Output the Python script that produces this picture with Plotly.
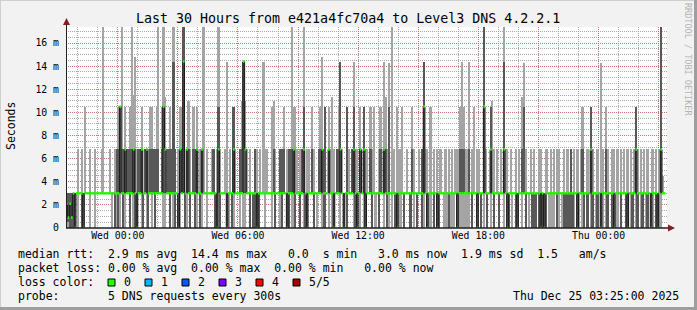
import plotly.graph_objects as go
import pandas as pd

# ---------------- data (ms) ----------------
t_start = "2025-12-23 21:25:00"
t_end = "2025-12-25 03:25:00"
step_seconds = 300

ping_min = [
    0,0,0,0,0,0,3,0,3,0,0,3,3,3,0,3,3,0,3,3,
    3,3,3,3,3,3,3,0,3,0,0,0,0,3,0,0,3,3,0,3,
    0,0,0,3,3,0,0,3,0,0,3,0,3,0,3,3,3,3,0,0,
    3,3,0,3,0,0,3,0,0,3,3,0,0,3,0,3,3,0,0,3,
    0,0,3,3,0,3,3,3,3,0,0,0,0,3,3,3,0,0,3,0,
    0,3,3,3,0,3,0,0,3,3,0,3,0,0,0,0,3,3,3,0,
    3,3,3,0,3,0,3,3,0,0,3,3,0,0,3,0,0,0,3,3,
    0,3,0,0,0,3,3,3,0,3,0,3,3,0,0,0,3,0,3,0,
    0,3,3,3,0,3,0,3,0,3,3,3,0,0,0,3,0,3,0,0,
    3,3,3,0,3,0,3,0,3,3,0,3,0,0,3,0,3,0,0,3,
    0,3,0,3,3,3,0,3,0,3,0,3,3,0,0,3,0,3,0,3,
    0,3,0,0,3,3,0,0,0,0,0,0,0,3,0,0,0,0,0,0,
    0,0,3,0,3,3,0,3,0,3,0,3,0,3,0,3,0,3,3,0,
    3,3,0,3,0,0,3,0,3,0,0,3,3,0,3,0,3,0,3,0,
    0,0,3,0,0,0,0,0,3,0,0,0,0,3,0,0,3,0,0,0,
    0,0,0,0,0,3,0,0,3,0,0,3,0,3,0,0,3,0,0,3,
    0,0,3,0,0,3,3,0,0,3,0,3,0,3,3,0,0,3,0,0,
    3,0,0,3,0,0,3,0,0,3,0,0,3,0,0,0,0,3,3,None,
]
ping_lo = [
    0.5,0.5,0,0,0,0,3,3,3,0,0,3,3,3,3,3,3,3,3,3,
    3,3,3,3,3,3,3,3,3,0,3,0,3,3,0,3,3,3,0,3,
    3,0,0,3,3,3,0,3,3,0,3,3,3,0,3,3,3,3,3,3,
    3,3,0,3,3,0,3,0,3,3,3,0,3,3,0,3,3,0,3,3,
    0,3,3,3,3,3,3,3,3,0,0,3,0,3,3,3,0,3,3,0,
    3,3,3,3,3,3,3,3,3,3,0,3,0,0,0,0,3,3,3,3,
    3,3,3,3,3,0,3,3,3,0,3,3,0,0,3,3,3,0,3,3,
    0,3,3,0,0,3,3,3,0,3,3,3,3,3,0,0,3,3,3,3,
    0,3,3,3,3,3,0,3,0,3,3,3,3,0,0,3,3,3,3,0,
    3,3,3,0,3,3,3,0,3,3,3,3,0,3,3,3,3,0,0,3,
    3,3,0,3,3,3,0,3,3,3,0,3,3,0,3,3,0,3,3,3,
    0,3,0,0,3,3,3,3,3,0,3,3,3,3,0,3,3,3,3,3,
    3,3,3,0,3,3,0,3,0,3,3,3,0,3,3,3,0,3,3,0,
    3,3,3,3,0,0,3,3,3,0,0,3,3,3,3,0,3,3,3,0,
    0,0,3,0,0,0,0,0,3,3,3,3,3,3,0,3,3,3,0,0,
    0,0,0,0,3,3,0,3,3,3,0,3,0,3,3,0,3,3,0,3,
    0,3,3,3,0,3,3,0,0,3,3,3,0,3,3,0,0,3,3,0,
    3,3,0,3,3,0,3,3,0,3,0,3,3,0,0,3,3,3,3,None,
]
ping_med = [
    2.1,0.9,2.1,0.9,3,0,3,3,3,3,0,3,3,3,3,3,3,3,3,3,
    3,3,3,3,3,3,3,3,3,3,3,3,10.5,3,3,6.8,3,3,3,3,
    6.8,3,0,3,3,6.8,3,3,6.8,3,3,3,3,3,3,3,3,3,10.5,6.8,
    3,3,3,3,3,3,3,0,6.8,3,14.4,3,6.8,3,3,3,3,3,6.8,3,
    3,6.8,3,3,3,3,3,3,3,3,0,6.8,3,3,3,3,0,3,3,3,
    6.8,3,3,3,3,3,14.4,6.8,3,3,3,3,3,3,0,3,3,3,3,3,
    3,3,3,3,3,3,3,3,3,3,3,3,0,3,3,3,6.8,3,3,3,
    3,3,6.8,3,0,3,3,3,3,3,3,3,3,6.8,3,3,3,6.8,3,3,
    0,3,3,3,6.8,3,0,3,3,3,3,3,6.8,3,0,3,6.8,3,6.8,0,
    3,3,3,3,3,3,3,3,3,3,6.8,3,3,3,3,3,3,3,0,3,
    3,3,3,3,3,3,3,3,3,3,3,3,3,3,10.5,3,0,3,3,3,
    3,3,0,3,3,3,3,3,3,3,3,3,3,3,0,3,3,3,3,3,
    3,3,3,3,3,3,0,3,3,3,10.5,3,3,3,6.8,3,3,3,3,3,
    3,3,6.8,3,0,3,3,3,3,3,0,3,3,3,3,3,3,3,3,3,
    3,3,3,3,0,3,0,3,3,3,3,3,3,3,3,3,3,3,3,3,
    3,3,3,3,3,3,0,3,3,3,3,3,3,3,6.8,3,3,3,3,3,
    0,3,3,3,3,3,3,3,0,3,3,3,3,3,3,3,0,3,3,3,
    3,6.8,3,3,3,3,3,3,3,3,0,3,3,3,0,3,6.8,3,3,None,
]
ping_hi = [
    3,3,3,3,3,3,3,3,3,3,3,3,3,3,3,3,3,3,3,3,
    3,3,3,3,3,3,3,3,3,3,6.8,6.8,10.5,6.8,6.8,6.8,6.8,6.8,6.8,6.8,
    6.8,6.8,3,6.8,6.8,6.8,3,6.8,6.8,3,6.8,6.8,6.8,6.8,6.8,6.8,3,6.8,10.5,6.8,
    3,6.8,6.8,6.8,14.4,6.8,3,3,6.8,6.8,25,3,6.8,6.8,3,3,6.8,6.8,6.8,3,
    3,6.8,3,3,3,3,3,3,6.8,3,3,10.5,3,3,3,3,3,3,3,3,
    10.5,3,3,3,6.8,6.8,14.4,6.8,3,3,3,3,3,6.8,3,3,3,3,3,3,
    3,3,3,3,6.8,3,3,3,6.8,6.8,6.8,3,3,6.8,6.8,6.8,6.8,3,3,3,
    3,6.8,10.5,3,3,3,3,6.8,3,3,3,6.8,6.8,6.8,3,10.5,3,6.8,3,3,
    3,3,6.8,6.8,14.4,3,3,3,10.5,3,3,6.8,10.5,3,3,3,6.8,3,10.5,3,
    3,3,6.8,3,3,3,3,3,6.8,3,6.8,6.8,3,10.5,3,3,3,3,3,3,
    3,3,3,3,3,3,3,6.8,3,3,3,3,3,6.8,14.4,3,3,3,3,3,
    3,3,3,3,3,3,3,3,3,3,3,3,3,3,3,3,6.8,6.8,6.8,3,
    3,6.8,3,3,3,3,3,3,3,3,25,3,3,3,10.5,3,3,3,3,3,
    3,3,14.4,3,3,3,3,3,3,3,3,3,3,6.8,10.5,3,3,3,3,3,
    3,3,3,3,3,3,3,3,3,3,3,3,3,3,3,3,3,3,3,3,
    3,3,6.8,3,3,3,3,3,3,6.8,3,3,3,3,10.5,3,3,3,3,3,
    3,3,3,6.8,3,3,3,3,3,3,3,3,3,3,3,3,3,3,3,3,
    3,10.5,3,3,3,3,3,3,3,3,3,3,3,3,3,3,25,3,3,None,
]
ping_max = [
    3,3,3,3,3,3,3,6.8,3,6.8,3,10.5,3,3,6.8,3,3,6.8,3,3,
    3,6.8,25,3,3,3,6.8,3,3,6.8,6.8,10.5,10.5,25,6.8,10.5,6.8,6.8,10.5,25,
    11.5,14.8,6.8,6.8,6.8,10.5,3,6.8,6.8,6.8,10.5,10.5,6.8,6.8,10.5,25,3,10.5,25,11.3,
    6.8,6.8,10.5,6.8,25,6.8,3,6.8,10.5,10.5,25,3,6.8,11,6.8,3,10.5,6.8,10.5,3,
    6.8,6.8,25,3,6.8,3,3,6.8,6.8,3,6.8,25,6.8,3,3,6.8,14.4,3,6.8,3,
    10.5,6.8,3,3,6.8,11,14.4,11,6.8,3,6.8,3,3,6.8,6.8,3,6.8,3,14.4,6.8,
    6.8,3,3,10.5,11,6.8,3,3,6.8,6.8,10.5,3,6.8,6.8,6.8,25,10.5,10.5,6.8,3,
    6.8,6.8,25,3,6.8,6.8,3,10.5,6.8,3,3,6.8,10.5,14.8,6.8,10.5,3,10.5,6.8,11.3,
    6.8,3,6.8,10.5,14.4,6.8,3,3,10.5,6.8,3,6.8,14.4,6.8,6.8,3,10.5,3,10.5,6.8,
    6.8,3,10.5,6.8,10.5,3,3,6.8,10.5,3,14.4,11.3,6.8,14.3,3,25,6.8,3,10.5,6.8,
    6.8,10.5,3,3,6.8,3,3,10.5,6.8,3,3,6.8,3,6.8,14.4,6.8,6.8,3,10.5,3,
    6.8,3,6.8,3,6.8,3,3,6.8,3,6.8,3,6.8,3,6.8,6.8,6.8,10.5,14.4,10.5,6.8,
    6.8,14.4,3,6.8,10.5,3,6.8,6.8,3,3,25,6.8,3,3,10.5,11,6.8,3,6.8,3,
    6.8,3,25,6.8,6.8,3,6.8,3,3,6.8,3,6.8,3,11.3,14.3,6.8,3,3,6.8,3,
    6.8,3,3,6.8,6.8,3,3,6.8,6.8,3,6.8,3,6.8,3,6.8,6.8,3,3,6.8,3,
    6.8,3,6.8,3,6.8,3,6.8,3,6.8,10.5,3,3,6.8,3,10.5,6.8,3,3,6.8,3,
    14.3,6.8,3,10.5,6.8,3,3,6.8,6.8,3,6.8,3,6.8,3,6.8,3,6.8,3,6.8,3,
    6.8,10.5,6.8,3,6.8,3,6.8,3,6.8,3,3,6.8,3,6.8,3,6.8,25,4.5,3,None,
]

x_tick_times = ["2025-12-24 00:00:00", "2025-12-24 03:00:00", "2025-12-24 06:00:00",
                "2025-12-24 09:00:00", "2025-12-24 12:00:00", "2025-12-24 15:00:00",
                "2025-12-24 18:00:00", "2025-12-24 21:00:00", "2025-12-25 00:00:00",
                "2025-12-25 03:00:00"]
x_tick_labels = ["Wed 00:00", "", "Wed 06:00", "", "Wed 12:00", "", "Wed 18:00", "",
                 "Thu 00:00", ""]
y_tick_vals = [0, 2, 4, 6, 8, 10, 12, 14, 16]
y_tick_labels = ["0", "2 m", "4 m", "6 m", "8 m", "10 m", "12 m", "14 m", "16 m"]

loss_labels = ["0", "1", "2", "3", "4", "5/5"]
loss_colors = ["#26ff00", "#00b8ff", "#0059ff", "#7e00ff", "#ff0000", "#a10000"]

legend_lines = [
    "median rtt:  2.9 ms avg  14.4 ms max   0.0  s min   3.0 ms now  1.9 ms sd  1.5   am/s",
    "packet loss: 0.00 % avg  0.00 % max  0.00 % min   0.00 % now",
]
title_text = "Last 30 Hours from e421a4fc70a4 to Level3 DNS 4.2.2.1"
probe_text = "probe:       5 DNS requests every 300s"
stamp_text = "Thu Dec 25 03:25:00 2025"

# ---------------- geometry ----------------
W, H = 697, 310
L, R, T, B = 66, 30, 27, 82
PW, PH = W - L - R, H - T - B
MONO = "DejaVu Sans Mono"


def px(xp):
    return (xp - L) / PW


def py(yp):
    return (H - B - yp) / PH


start = pd.Timestamp(t_start)
step = pd.Timedelta(seconds=step_seconds)
n = len(ping_med)
valid = [i for i in range(n) if ping_med[i] is not None]
t_left = [start + step * i for i in range(n)]
t_mid = [start + step * (i + 0.5) for i in range(n)]

fig = go.Figure()
fig.add_trace(go.Bar(
    x=[t_mid[i] for i in valid],
    base=[ping_min[i] for i in valid],
    y=[ping_max[i] - ping_min[i] for i in valid],
    width=step_seconds * 1000,
    marker=dict(color="#A4A4A4", line=dict(width=0)),
    hoverinfo="skip", showlegend=False))
fig.add_trace(go.Bar(
    x=[t_mid[i] for i in valid],
    base=[ping_lo[i] for i in valid],
    y=[ping_hi[i] - ping_lo[i] for i in valid],
    width=step_seconds * 1000,
    marker=dict(color="#585858", line=dict(width=0)),
    hoverinfo="skip", showlegend=False))

# median: dark step line (vertical joins) + green dashes per step
mx = [t_left[i] for i in valid] + [t_left[valid[-1]] + step]
my = [ping_med[i] for i in valid] + [ping_med[valid[-1]]]
fig.add_trace(go.Scatter(x=mx, y=my, mode="lines", line=dict(color="#1a1a1a", width=1, shape="hv"),
                         hoverinfo="skip", showlegend=False))
gx, gy = [], []
for i in valid:
    gx += [t_left[i], t_left[i] + step, None]
    gy += [ping_med[i], ping_med[i], None]
fig.add_trace(go.Scatter(x=gx, y=gy, mode="lines", line=dict(color="#26ff00", width=2.5),
                         hoverinfo="skip", showlegend=False))

grid_minor = "rgba(143,143,143,0.75)"
grid_major = "rgba(222,79,79,0.6)"

fig.update_layout(
    width=W, height=H,
    margin=dict(l=L, r=R, t=T, b=B),
    paper_bgcolor="#F2F2F2", plot_bgcolor="#FFFFFF",
    barmode="overlay", bargap=0,
    showlegend=False,
    xaxis=dict(
        type="date", range=[t_start, t_end],
        tickmode="array", tickvals=x_tick_times, ticktext=x_tick_labels,
        showgrid=True, gridcolor=grid_major, griddash="1px,1px", gridwidth=1,
        minor=dict(tickmode="linear", tick0="2025-12-23 22:00:00", dtick=3600000,
                   showgrid=True, gridcolor=grid_minor, griddash="1px,1px", gridwidth=1),
        ticks="", zeroline=False, showline=False,
        tickfont=dict(family=MONO, size=9.8, color="#000000"),
    ),
    yaxis=dict(
        range=[0, (H - B - T) / 11.5625],
        tickmode="array", tickvals=y_tick_vals, ticktext=y_tick_labels,
        showgrid=True, gridcolor=grid_major, griddash="1px,1px", gridwidth=1,
        minor=dict(tickmode="linear", tick0=0, dtick=0.5,
                   showgrid=True, gridcolor=grid_minor, griddash="1px,1px", gridwidth=1),
        ticks="", zeroline=False, showline=False, ticklabelstandoff=6,
        tickfont=dict(family=MONO, size=9.8, color="#000000"),
    ),
)

shapes = []
# axes
shapes.append(dict(type="line", xref="paper", yref="paper", x0=px(66), x1=px(670), y0=py(228), y1=py(228),
                   line=dict(color="#1F1F1F", width=1.5)))
shapes.append(dict(type="line", xref="paper", yref="paper", x0=px(66.5), x1=px(66.5), y0=py(228), y1=py(22),
                   line=dict(color="#1F1F1F", width=1)))
# arrows
shapes.append(dict(type="path", xref="paper", yref="paper",
                   path=f"M {px(668)},{py(224.5)} L {px(675)},{py(228)} L {px(668)},{py(231.5)} Z",
                   fillcolor="#801F1F", line=dict(width=0)))
shapes.append(dict(type="path", xref="paper", yref="paper",
                   path=f"M {px(63)},{py(25)} L {px(66.5)},{py(18)} L {px(70)},{py(25)} Z",
                   fillcolor="#801F1F", line=dict(width=0)))
# frame
shapes.append(dict(type="line", xref="paper", yref="paper", x0=px(0), x1=px(W), y0=py(0.5), y1=py(0.5),
                   line=dict(color="#CFCFCF", width=1)))
shapes.append(dict(type="line", xref="paper", yref="paper", x0=px(0.5), x1=px(0.5), y0=py(0), y1=py(H),
                   line=dict(color="#CFCFCF", width=1)))
shapes.append(dict(type="line", xref="paper", yref="paper", x0=px(0), x1=px(W), y0=py(H - 1.5), y1=py(H - 1.5),
                   line=dict(color="#9E9E9E", width=3)))
shapes.append(dict(type="line", xref="paper", yref="paper", x0=px(W - 1.5), x1=px(W - 1.5), y0=py(0), y1=py(H),
                   line=dict(color="#9E9E9E", width=3)))
# loss color boxes
box_x = [108, 145, 182, 219, 256, 293]
for bx, col in zip(box_x, loss_colors):
    shapes.append(dict(type="rect", xref="paper", yref="paper", x0=px(bx), x1=px(bx + 7),
                       y0=py(286), y1=py(279), fillcolor=col, line=dict(color="#000000", width=1)))

ann = []
ann.append(dict(text=title_text, x=px(348), y=py(19), xref="paper", yref="paper",
                xanchor="center", yanchor="middle", showarrow=False,
                font=dict(family=MONO, size=13.3, color="#000000")))
ann.append(dict(text="Seconds", x=px(11), y=py(126), xref="paper", yref="paper", textangle=-90,
                xanchor="center", yanchor="middle", showarrow=False,
                font=dict(family=MONO, size=11.5, color="#000000")))
ann.append(dict(text="RRDTOOL / TOBI OETIKER", x=px(688), y=py(59), xref="paper", yref="paper", textangle=90,
                xanchor="center", yanchor="middle", showarrow=False,
                font=dict(family=MONO, size=8.5, color="#B4B4B4")))
for k, line in enumerate(legend_lines):
    ann.append(dict(text=line.replace(" ", "&nbsp;"), x=px(16), y=py(254 + 14 * k), xref="paper", yref="paper",
                    xanchor="left", yanchor="middle", showarrow=False,
                    font=dict(family=MONO, size=11.5, color="#000000")))
ann.append(dict(text="loss&nbsp;color:", x=px(16), y=py(282), xref="paper", yref="paper",
                xanchor="left", yanchor="middle", showarrow=False,
                font=dict(family=MONO, size=11.5, color="#000000")))
for bx, lab in zip(box_x, loss_labels):
    ann.append(dict(text=lab, x=px(bx + 14), y=py(282), xref="paper", yref="paper",
                    xanchor="left", yanchor="middle", showarrow=False,
                    font=dict(family=MONO, size=11.5, color="#000000")))
ann.append(dict(text=probe_text.replace(" ", "&nbsp;"), x=px(16), y=py(296), xref="paper", yref="paper",
                xanchor="left", yanchor="middle", showarrow=False,
                font=dict(family=MONO, size=11.5, color="#000000")))
ann.append(dict(text=stamp_text, x=px(681), y=py(296), xref="paper", yref="paper",
                xanchor="right", yanchor="middle", showarrow=False,
                font=dict(family=MONO, size=11.5, color="#000000")))

fig.update_layout(shapes=shapes, annotations=ann)
fig.write_html("out.html")
